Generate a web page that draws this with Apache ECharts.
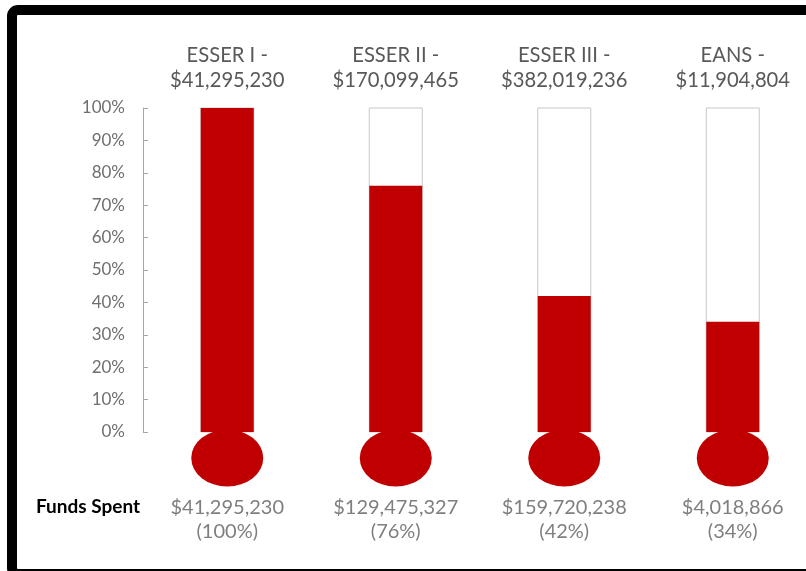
<!DOCTYPE html>
<html>
<head>
<meta charset="utf-8">
<script src="https://cdn.jsdelivr.net/npm/echarts@6/dist/echarts.min.js"></script>
<style>
html,body{margin:0;padding:0;background:#fff;}
#c{width:806px;height:571px;}
</style>
</head>
<body>
<div id="c"></div>
<script>
var categories = ['ESSER I', 'ESSER II', 'ESSER III', 'EANS'];
var totalLabels = ['$41,295,230', '$170,099,465', '$382,019,236', '$11,904,804'];
var spentLabels = ['$41,295,230', '$129,475,327', '$159,720,238', '$4,018,866'];
var spentPct = [1.00, 0.76, 0.42, 0.34];
var bulbBase = [0, 0, 0, 0];

var FONT = 'Lato, sans-serif';
var RED = '#C00000';

var chart = echarts.init(document.getElementById('c'));
chart.setOption({
  backgroundColor: '#fff',
  animation: false,
  grid: {left: 143, top: 108, width: 674, height: 324, outerBoundsMode: 'none', containLabel: false},
  graphic: [
    {type: 'rect', shape: {x: 12, y: 10, width: 820, height: 564, r: 6},
     style: {fill: 'none', stroke: '#000', lineWidth: 10}, z: 100},
    {type: 'text', left: 36, top: 497,
     style: {text: 'Funds Spent', font: 'bold 19px ' + FONT, fill: '#000'}}
  ],
  xAxis: [
    {type: 'category', position: 'top', data: categories,
     axisLine: {show: false}, axisTick: {show: false},
     axisLabel: {
       interval: 0, hideOverlap: false,
       margin: 15, color: '#595959', fontSize: 20.2, lineHeight: 25, fontFamily: FONT,
       formatter: function (v, i) { return v + ' -\n' + totalLabels[i]; }
     }},
    {type: 'category', position: 'bottom', data: categories,
     axisLine: {show: false}, axisTick: {show: false},
     axisLabel: {
       interval: 0, hideOverlap: false,
       margin: 64, color: '#7f7f7f', fontSize: 20, lineHeight: 24, fontFamily: FONT,
       formatter: function (v, i) { return spentLabels[i] + '\n(' + Math.round(spentPct[i] * 100) + '%)'; }
     }}
  ],
  yAxis: {
    type: 'value', min: 0, max: 1, interval: 0.1,
    axisLine: {show: true, lineStyle: {color: '#a6a6a6', width: 1}},
    axisTick: {show: true, inside: true, length: 5, lineStyle: {color: '#a6a6a6'}},
    splitLine: {show: false},
    axisLabel: {margin: 18, color: '#6f6f6f', fontSize: 17, fontFamily: FONT,
      formatter: function (v) { return Math.round(v * 100) + '%'; }}
  },
  series: [
    {type: 'bar', xAxisIndex: 1, data: spentPct, barWidth: 53,
     showBackground: true,
     backgroundStyle: {color: '#fff', borderColor: '#c8c8c8', borderWidth: 1},
     itemStyle: {color: RED}, z: 2},
    {type: 'scatter', xAxisIndex: 1, data: bulbBase, symbol: 'circle',
     symbolSize: [72, 57], symbolOffset: [0, 26], clip: false,
     itemStyle: {color: RED, opacity: 1}, z: 3}
  ]
});
</script>
</body>
</html>
